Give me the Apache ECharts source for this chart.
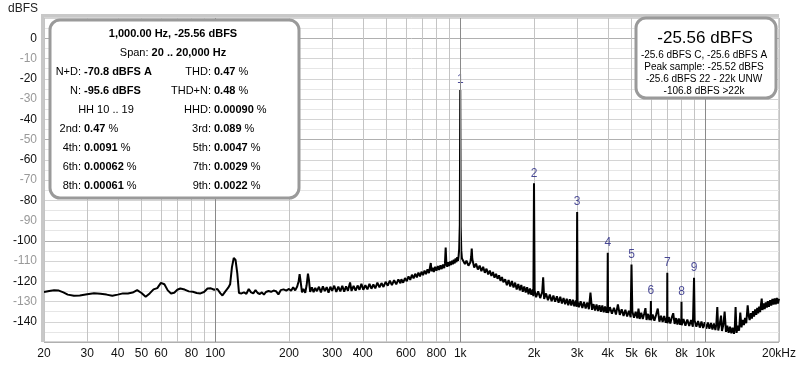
<!DOCTYPE html>
<html><head><meta charset="utf-8">
<script src="https://cdn.jsdelivr.net/npm/echarts@6/dist/echarts.min.js"></script>
<style>html,body{margin:0;padding:0;background:#fff}#c{width:800px;height:365px}</style>
</head><body><div id="c"></div>
<script>
// ---- data ----
const freqLabels = [20,30,40,50,60,80,100,200,300,400,600,800,1000,2000,3000,4000,5000,6000,8000,10000,20000];
const gridFreqs = [20,30,40,50,60,70,80,90,100,200,300,400,500,600,700,800,900,1000,2000,3000,4000,5000,6000,7000,8000,9000,10000,20000];
const decadeFreqs = [100,1000,10000];
const harmFreq = [1000,2000,3000,4000,5000,6000,7000,8000,9000];
const harmDb = [-25.56,-71.6,-85.8,-105.9,-111.7,-129.7,-115.8,-130.1,-118.3];

const lowBand = [[20,-125.3],[21,-124.8],[22,-124.4],[23,-124.6],[24,-125.5],[25,-126.6],[26.5,-127.2],[28,-127.0],[30,-126.4],[32,-125.9],[34,-126.2],[36,-126.6],[38,-127.2],[40,-126.6],[42,-126.0],[44,-126.1],[46,-125.6],[48,-124.4],[50,-125.8],[52,-127.7],[54,-126.0],[56,-124.0],[58,-123.4],[60,-120.8],[62,-121.5],[64,-124.5],[66,-126.0],[68,-125.7],[70,-124.2],[72,-123.6],[75,-124.1],[78,-125.0],[81,-125.2],[84,-125.8],[87,-126.0],[90,-125.3],[93,-123.6],[96,-123.5],[99,-124.2],[102,-123.8],[105,-126.0],[107,-127.0],[110,-125.0],[113,-123.2],[115,-121.5],[117,-113.0],[119,-108.5],[121,-109.5],[123,-116.0],[125,-125.8],[128,-126.0],[131,-125.5],[134,-126.2],[137,-123.8],[140,-125.5],[143,-126.0],[146,-124.4],[149,-125.8],[152,-126.3],[155,-125.5],[158,-126.6],[161,-125.3],[165,-124.8],[169,-125.2],[173,-124.6],[177,-124.9],[181,-126.5],[185,-124.4],[190,-124.0],[195,-124.6]];

const midBand = [[200,-123.8],[204,-124.7],[208,-123.0],[212,-124.5],[216,-122.6],[219,-120.0],[221,-116.5],[223,-120.0],[226,-125.5],[229,-123.8],[233,-125.7],[236,-122.0],[239,-116.2],[241,-119.0],[244,-125.2],[248,-123.0],[252,-125.4],[256,-123.3],[260,-124.9],[265,-122.7],[270,-125.5],[275,-122.5],[280,-124.9],[285,-122.9],[290,-125.6],[295,-122.7],[300,-124.7],[306,-122.2],[312,-125.3],[318,-122.7],[324,-125.0],[330,-122.3],[336,-125.1],[342,-122.5],[348,-124.7],[355,-120.6],[360,-124.8],[367,-122.3],[374,-124.6],[381,-122.1],[388,-124.2],[395,-121.2],[402,-124.2],[410,-122.0],[418,-124.0],[426,-121.3],[434,-123.7],[442,-121.6],[450,-123.5],[459,-120.7],[468,-123.0],[477,-120.9],[486,-122.8],[496,-120.3],[506,-122.2],[516,-119.7],[526,-121.9],[537,-119.5],[548,-121.5],[559,-119.1],[570,-121.0]];

const nearFund = [[575,-119.0],[585,-120.7],[595,-118.4],[605,-120.0],[615,-117.6],[625,-119.3],[635,-116.8],[645,-118.6],[655,-116.3],[665,-118.1],[675,-115.7],[685,-117.6],[695,-115.3],[705,-117.0],[715,-114.7],[725,-116.5],[735,-114.1],[745,-116.0],[752,-113.3],[758,-111.0],[764,-115.1],[772,-113.3],[780,-115.4],[790,-112.9],[800,-114.8],[810,-112.5],[820,-114.4],[830,-112.1],[840,-114.0],[850,-111.7],[860,-113.5],[866,-111.3],[872,-103.3],[878,-111.7],[885,-112.8],[893,-110.6],[901,-112.5],[909,-110.2],[917,-112.0],[925,-109.8],[933,-111.6],[941,-109.3],[949,-111.2],[957,-108.7],[965,-110.6],[972,-108.1],[979,-110.0],[985,-107.3],[990,-104.0],[996,-92.0],[1004,-93.0],[1010,-105.0],[1016,-108.8]];

const highBand = [[1030,-109.3],[1045,-111.5],[1060,-109.8],[1080,-112.3],[1100,-110.6],[1108,-108.0],[1114,-103.8],[1120,-109.0],[1140,-113.2],[1160,-111.3],[1180,-114.2],[1200,-112.3],[1220,-115.0],[1240,-112.9],[1260,-115.8],[1280,-113.8],[1300,-116.6],[1320,-114.7],[1340,-117.4],[1360,-115.5],[1380,-118.2],[1400,-116.3],[1420,-118.8],[1440,-117.1],[1460,-119.8],[1480,-117.9],[1500,-120.5],
[1525,-119.0],[1550,-122.0],[1575,-119.4],[1600,-122.6],[1625,-119.9],[1650,-123.1],[1675,-120.7],[1700,-124.1],[1725,-121.4],[1750,-124.5],[1775,-121.8],[1800,-125.2],[1825,-122.6],[1850,-125.6],[1875,-123.0],[1900,-126.4],[1925,-123.6],[1950,-126.7],[1975,-124.1],[1988,-127.4],[2012,-124.6],
[2040,-127.9],[2080,-125.0],[2120,-128.3],[2160,-125.4],[2180,-118.0],[2200,-128.7],[2240,-126.0],[2280,-129.4],[2320,-126.6],[2360,-129.9],[2400,-127.1],[2440,-130.1],[2480,-127.4],[2520,-130.6],[2560,-127.7],[2600,-131.0],[2640,-128.3],[2680,-131.3],[2720,-128.6],[2760,-131.8],[2800,-128.9],[2840,-132.0],[2880,-129.1],[2920,-132.3],[2960,-129.5],[2988,-132.6],[3012,-129.8],
[3050,-132.8],[3100,-129.9],[3150,-133.2],[3200,-130.3],[3250,-133.4],[3300,-130.5],[3350,-133.8],[3400,-125.6],[3450,-134.1],[3500,-131.3],[3550,-134.5],[3600,-131.5],[3650,-134.7],[3700,-131.8],[3750,-135.1],[3800,-132.0],[3850,-135.3],[3900,-132.4],[3950,-135.6],[3988,-132.7],[4012,-135.7],
[4080,-132.8],[4160,-136.0],[4240,-133.1],[4320,-136.4],[4400,-131.5],[4480,-136.6],[4560,-133.8],[4640,-137.1],[4720,-134.1],[4800,-137.4],[4880,-134.6],[4960,-137.8],[5040,-134.9],[5120,-138.0],[5200,-135.1],[5280,-138.3],[5340,-133.5],[5400,-138.6],[5480,-135.6],[5560,-138.7],[5640,-135.8],[5700,-133.3],[5760,-139.1],[5840,-136.1],[5920,-139.2],[5988,-136.3],[6012,-139.3],
[6100,-136.4],[6200,-139.5],[6300,-136.6],[6400,-133.5],[6500,-140.0],[6600,-137.0],[6700,-140.1],[6800,-137.2],[6900,-140.5],[6988,-137.6],[7012,-140.7],[7100,-137.7],[7200,-140.9],[7300,-137.9],[7400,-135.8],[7500,-141.1],[7600,-138.2],[7700,-141.4],[7800,-138.4],[7900,-141.5],[7988,-138.5],[8012,-141.7],
[8150,-138.7],[8300,-141.9],[8450,-138.9],[8600,-142.1],[8750,-139.2],[8900,-142.4],[9050,-139.4],[9200,-142.5],[9350,-139.6],[9500,-142.9],[9650,-139.9],[9800,-143.1],[9950,-140.2],[10100,-143.4],[10250,-140.4],[10400,-143.5],[10550,-140.6],[10700,-143.8],[10850,-140.9],[11000,-144.1],[11100,-141.2],[11200,-132.7],[11300,-144.3],[11450,-141.3],[11600,-137.0],[11700,-144.6],[11850,-141.6],[12000,-135.0],[12150,-145.0],
[12300,-142.0],[12460,-145.4],[12620,-142.5],[12780,-145.7],[12940,-142.9],[13100,-146.0],[13200,-143.0],[13300,-132.7],[13420,-145.5],[13580,-141.9],[13740,-144.4],[13900,-135.5],[14060,-142.8],[14220,-139.1],[14380,-141.6],[14540,-138.1],[14700,-140.7],[14900,-131.9],[15020,-136.6],[15180,-139.2],[15340,-135.7],[15500,-138.4],[15660,-134.8],[15820,-137.4],[15980,-133.9],
[16150,-136.6],[16300,-133.2],[16450,-135.8],[16600,-132.5],[16750,-135.2],[16870,-131.8],[17000,-128.6],[17120,-134.2],[17300,-130.9],[17480,-133.7],[17660,-130.4],[17840,-133.0],[18000,-129.8],[18200,-132.6],[18400,-129.3],[18600,-132.0],[18800,-128.7],[19000,-131.5],[19200,-128.5],[19400,-131.4],[19600,-128.2],[19800,-131.0],[20000,-128.6]];

// ---- build ----
const harmPts = harmFreq.map((f,i)=>[f, harmDb[i]]);
const spectrum = lowBand.concat(midBand, nearFund, highBand, harmPts).sort((a,b)=>a[0]-b[0]);

const FONT = 'Liberation Sans, Arial, sans-serif';
function t(x,y,text,o){
  o = o||{};
  return {type:'text', z:110, style:{x:x,y:y,text:text,
    font:(o.bold?'bold ':'')+(o.size||11)+'px '+FONT, fill:o.color||'#000',
    align:o.align||'left', verticalAlign:'middle', rich:o.rich}};
}
const B = {b:{font:'bold 11px '+FONT, fill:'#000'}, n:{font:'11px '+FONT, fill:'#000'}};
function val(s){
  return s.endsWith(' %') ? '{b|'+s.slice(0,-2)+'}{n| %}' : '{b|'+s+'}';
}
const leftRows = [
  ['N+D:','-70.8 dBFS A','THD:','0.47 %'],
  ['N:','-95.6 dBFS','THD+N:','0.48 %'],
  [null,null,'HHD:','0.00090 %'],
  ['2nd:','0.47 %','3rd:','0.089 %'],
  ['4th:','0.0091 %','5th:','0.0047 %'],
  ['6th:','0.00062 %','7th:','0.0029 %'],
  ['8th:','0.00061 %','9th:','0.0022 %']
];
const boxEls = [
  {type:'rect', z:90, shape:{x:41,y:14,width:3,height:328}, style:{fill:'#c8c8c8'}},
  {type:'rect', z:90, shape:{x:41,y:14,width:738,height:3}, style:{fill:'#c8c8c8'}},
  {type:'rect', z:100, shape:{x:50,y:20,width:249,height:178,r:10}, style:{fill:'#fff',stroke:'#9a9a9a',lineWidth:3}},
  t(173,34,'1,000.00 Hz, -25.56 dBFS',{bold:true,align:'center'}),
  t(173,53,'{n|Span: }{b|20 .. 20,000 Hz}',{align:'center',rich:B}),
  t(106,110,'HH 10 .. 19',{align:'center'}),
  {type:'rect', z:100, shape:{x:636,y:18,width:140,height:80,r:10}, style:{fill:'#fff',stroke:'#9a9a9a',lineWidth:3}},
  t(705,38,'-25.56 dBFS',{size:17,align:'center'}),
  t(704,55,'-25.6 dBFS C, -25.6 dBFS A',{size:10,align:'center'}),
  t(704,67,'Peak sample: -25.52 dBFS',{size:10,align:'center'}),
  t(704,79,'-25.6 dBFS 22 - 22k UNW',{size:10,align:'center'}),
  t(704,91,'-106.8 dBFS >22k',{size:10,align:'center'}),
  t(8,9,'dBFS',{size:12,color:'#222'})
];
leftRows.forEach((r,i)=>{
  const y = 72 + i*19;
  if (r[0]) { boxEls.push(t(81,y,r[0],{align:'right'})); boxEls.push(t(84,y,val(r[1]),{rich:B})); }
  boxEls.push(t(211,y,r[2],{align:'right'}));
  boxEls.push(t(214,y,val(r[3]),{rich:B}));
});

const chart = echarts.init(document.getElementById('c'), null, {renderer:'canvas'});
chart.setOption({
  animation:false,
  grid:{left:44,right:21,top:18,bottom:23,show:true,borderColor:'#a8a8a8',borderWidth:1,backgroundColor:'#fff'},
  xAxis:{type:'log',logBase:10,min:20,max:20000,
    axisLine:{show:false},
    axisTick:{show:false,customValues:gridFreqs},
    axisLabel:{customValues:freqLabels,color:'#111',fontSize:12,fontFamily:FONT,margin:6,
      formatter:v=> v>=20000?'20kHz':(v>=1000?(v/1000)+'k':String(v))},
    splitLine:{show:true,lineStyle:{color:'#c4c4c4',width:1}},
    minorSplitLine:{show:false}},
  yAxis:{type:'value',min:-150,max:10,interval:10,
    axisLine:{show:false},axisTick:{show:false},
    axisLabel:{fontSize:12,fontFamily:FONT,margin:7,
      formatter:v=> (v>0||v<-140)?'':String(v),
      color:(v)=> (Math.round(v)%20===0)?'#111':'#999'},
    splitLine:{show:true,lineStyle:{color:['#b0b0b0','#d4d4d4','#d4d4d4','#d4d4d4','#d4d4d4'],width:1}},
    minorTick:{show:false,splitNumber:2},
    minorSplitLine:{show:true,lineStyle:{color:'#e6e6e6',width:1}}},
  graphic: boxEls,
  series:[
    {type:'line',data:[],z:1,silent:true,
     markLine:{silent:true,symbol:'none',label:{show:false},animation:false,
       lineStyle:{color:'#8a8a8a',width:1,type:'solid'},
       data:decadeFreqs.map(f=>({xAxis:f}))}},
    {type:'line',data:spectrum,z:3,showSymbol:false,symbol:'none',smooth:false,
     lineStyle:{color:'#000',width:2},clip:true},
    {type:'scatter',data:harmPts,z:4,symbolSize:0,silent:true,
     label:{show:true,position:'top',distance:4,color:'#1c1c7c',fontSize:12,fontFamily:FONT,
       formatter:p=>String(p.dataIndex+1)}}
  ]
});
</script></body></html>
